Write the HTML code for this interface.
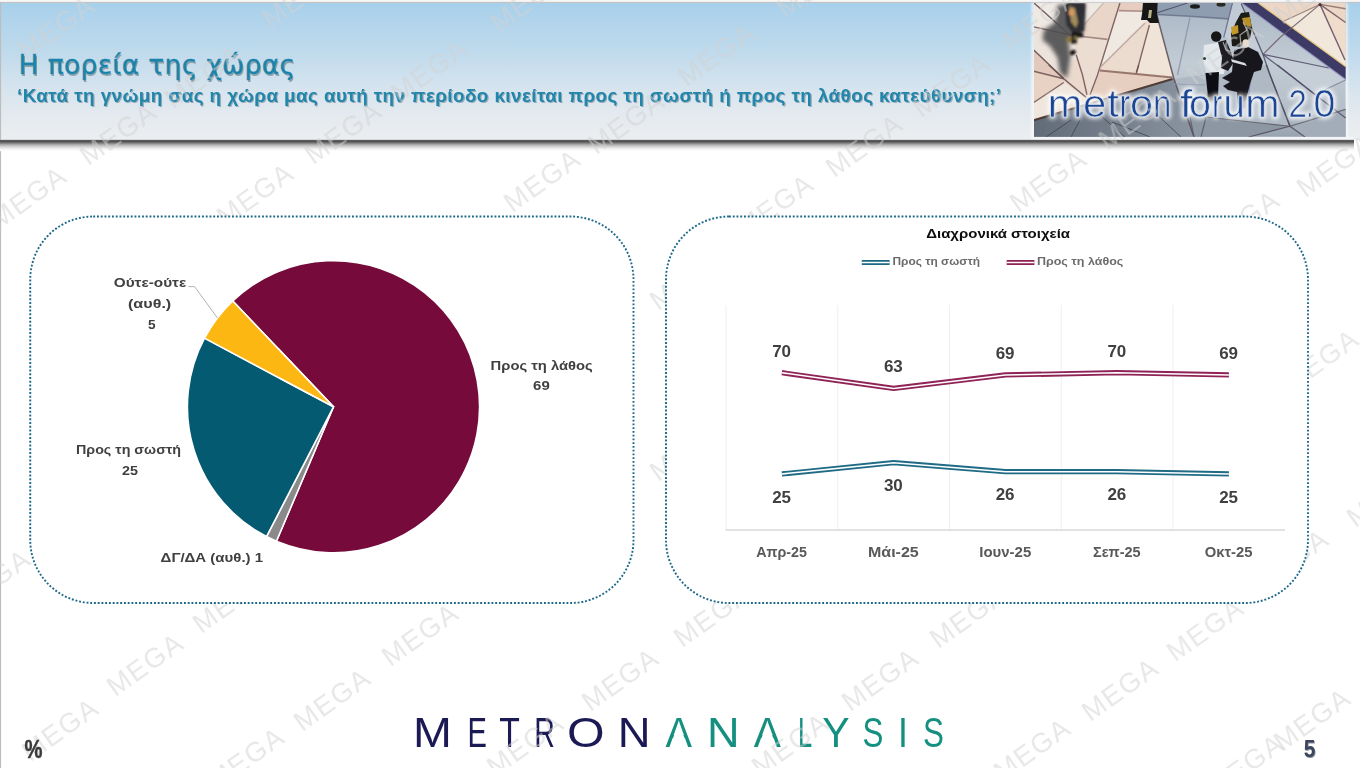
<!DOCTYPE html>
<html lang="el"><head><meta charset="utf-8"><title>Η πορεία της χώρας</title>
<style>html,body{margin:0;padding:0;background:#fff;}body{width:1360px;height:768px;overflow:hidden;}svg{display:block;}text{white-space:pre;}</style>
</head><body>
<svg width="1360" height="768" viewBox="0 0 1360 768">
<defs>
<linearGradient id="hdr" x1="0" y1="0" x2="0" y2="1">
<stop offset="0" stop-color="#a8d0eb"/><stop offset="0.35" stop-color="#bfdaec"/><stop offset="0.6" stop-color="#d4e3ee"/><stop offset="0.8" stop-color="#e3e9ef"/><stop offset="1" stop-color="#eceef0"/>
</linearGradient>
<linearGradient id="shd" x1="0" y1="0" x2="0" y2="1">
<stop offset="0" stop-color="#6a6a6a"/><stop offset="0.12" stop-color="#4a4a4a"/><stop offset="0.25" stop-color="#6e6e6e"/><stop offset="0.42" stop-color="#a8a8a8"/><stop offset="0.6" stop-color="#d0d0d0"/><stop offset="0.8" stop-color="#f0f0f0"/><stop offset="1" stop-color="#ffffff"/>
</linearGradient>
<filter id="b1" x="-20%" y="-20%" width="140%" height="140%"><feGaussianBlur stdDeviation="1"/></filter>
<filter id="b2" x="-20%" y="-20%" width="140%" height="140%"><feGaussianBlur stdDeviation="2.2"/></filter>
<filter id="b3" x="-30%" y="-30%" width="160%" height="160%"><feGaussianBlur stdDeviation="4"/></filter>
<filter id="b05" x="-10%" y="-10%" width="120%" height="120%"><feGaussianBlur stdDeviation="0.5"/></filter>
<clipPath id="imgclip"><rect x="1034" y="3" width="312" height="134"/></clipPath>
</defs>
<rect x="0" y="0" width="1360" height="768" fill="#ffffff"/>
<g opacity="0.999">
<rect x="0" y="0" width="1360" height="2" fill="#f6f6f6"/>
<rect x="0" y="1.9" width="1360" height="1.2" fill="#c2c2c2"/>
<rect x="0" y="3" width="1360" height="136.9" fill="url(#hdr)"/>
<rect x="0" y="2" width="1.1" height="766" fill="#bdbdbd"/>
<rect x="1031.3" y="3" width="316.6" height="137" fill="#ffffff" opacity="0.6" filter="url(#b1)"/>
<g clip-path="url(#imgclip)"><g filter="url(#b04)">
<defs>
<linearGradient id="pv" x1="0" y1="0" x2="1" y2="0"><stop offset="0" stop-color="#626b78"/><stop offset="0.6" stop-color="#78828f"/><stop offset="1" stop-color="#8b95a2"/></linearGradient>
<linearGradient id="bg2" x1="0" y1="0" x2="0" y2="1"><stop offset="0" stop-color="#a9b6c4"/><stop offset="0.45" stop-color="#c2ccd5"/><stop offset="0.8" stop-color="#b4bec8"/><stop offset="1" stop-color="#98a3b0"/></linearGradient>
<filter id="b04" x="-5%" y="-5%" width="110%" height="110%"><feGaussianBlur stdDeviation="0.45"/></filter>
<filter id="glow" x="-10%" y="-40%" width="120%" height="180%"><feGaussianBlur stdDeviation="2.2"/></filter>
</defs>
<rect x="1033.75" y="2.75" width="311.8499999999999" height="134.15" fill="url(#bg2)"/>
<polygon points="1157,2.75 1233,2.75 1228.5,18.9 1190,16.2 1157,14.5" fill="#8f9db1"/>
<polygon points="1233,2.75 1242,2.75 1262,52 1224,37" fill="#c9d2db" opacity="0.7"/>
<polygon points="1174,79 1266,65 1290,126 1249,137 1194,137" fill="#aeb9c4"/>
<polygon points="1194,137 1174,95 1206,117 1290,126 1249,137" fill="#8d97a4"/>
<polygon points="1290,126 1345.6,109.5 1345.6,137 1305,137" fill="#a3adb9"/>
<polygon points="1263,54.4 1329,68 1345.6,80 1315,94.4" fill="#c6cfd7"/>
<polygon points="1033.75,2.75 1157,2.75 1156.25,13 1173.75,78.3 1033.75,119.6" fill="#ead9cc"/>
<polygon points="1033.75,2.75 1104,2.75 1084,25 1071,35.5 1033.75,27" fill="#efe9e3"/>
<polygon points="1033.75,27 1071,35.5 1078,56 1060,75 1033.75,50" fill="#ece4dc"/>
<polygon points="1104,2.75 1120,2.75 1108.5,39.4 1080,36.2 1084,25" fill="#ead5c9"/>
<polygon points="1120,2.75 1157,2.75 1156.25,11.5 1118.5,10.6" fill="#e6cdbf"/>
<polygon points="1118.5,10.8 1151,11.5 1145,23 1100,67.5" fill="#efe9e2"/>
<polygon points="1145,23 1149.4,25 1136.25,72.5 1100,69.5 1100,67.5" fill="#ecdccf"/>
<polygon points="1149.4,25 1156.25,13 1173.5,77.5 1136.25,73" fill="#f0e4d8"/>
<polygon points="1080,36.2 1108.5,39.4 1097.5,75 1090,95 1082.5,75 1076,55" fill="#ecddd2"/>
<polygon points="1033.75,50 1060,75 1063.75,79 1033.75,71.25" fill="#e3c9bd"/>
<polygon points="1033.75,71.25 1063.75,79 1063.75,82.5 1033.75,102.5" fill="#e8d2c4"/>
<polygon points="1033.75,102.5 1063.75,82.5 1086.25,97.5 1033.75,119.6" fill="#efe6dd"/>
<polygon points="1100,70.6 1172.5,77.5 1173.75,78.3 1090,103 1090,95" fill="#e6cfc0"/>
<polygon points="1033.75,119.6 1172.5,78.3 1174,79 1194,137 1033.75,137" fill="url(#pv)"/>
<polyline points="1033.75,120.3 1172.5,79" fill="none" stroke="#4a332c" stroke-width="2.2" opacity="0.9"/>
<polyline points="1101,116 1125,137" fill="none" stroke="#3d4450" stroke-width="1" opacity="0.8"/>
<polyline points="1071,120 1046,137" fill="none" stroke="#3d4450" stroke-width="1" opacity="0.8"/>
<polyline points="1080,120 1071,137" fill="none" stroke="#3d4450" stroke-width="1" opacity="0.8"/>
<polyline points="1156,113.75 1181,137" fill="none" stroke="#3d4450" stroke-width="1" opacity="0.8"/>
<polyline points="1112,122 1150,137" fill="none" stroke="#3d4450" stroke-width="1" opacity="0.8"/>
<polygon points="1257.5,2.75 1345.6,2.75 1345.6,66.9" fill="#ecd6c5"/>
<polygon points="1283,21.5 1320,4.4 1345,60.5 1345.6,66.9" fill="#f1e8db"/>
<polygon points="1320,4.4 1345.6,22.5 1345.6,60.5" fill="#efdccb"/>
<polygon points="1241.25,2.75 1258,2.75 1345.6,66.5 1345.6,79.5" fill="#3d3b66"/>
<polyline points="1258,2.75 1345.6,66.5" fill="none" stroke="#e6c680" stroke-width="1.3"/>
<polyline points="1241.25,2.75 1345.6,79.5" fill="none" stroke="#9a9cc6" stroke-width="1.2" opacity="0.8"/>
<polyline points="1033.75,2.75 1071.25,36.25" fill="none" stroke="#5e4848" stroke-width="1.4850000000000003" opacity="0.85"/>
<polyline points="1033.75,26.9 1071,35" fill="none" stroke="#6d4f50" stroke-width="1.35" opacity="0.85"/>
<polyline points="1080,36.25 1107.5,39.4" fill="none" stroke="#9a7a76" stroke-width="1.62" opacity="0.85"/>
<polyline points="1120,2.75 1097.5,75 1090,95" fill="none" stroke="#6d4f50" stroke-width="1.35" opacity="0.85"/>
<polyline points="1118.75,10.6 1156,11.5" fill="none" stroke="#a38580" stroke-width="1.62" opacity="0.85"/>
<polyline points="1100,67.5 1145,23" fill="none" stroke="#b9a29a" stroke-width="1.62" opacity="0.85"/>
<polyline points="1149.4,25 1136.25,73.75" fill="none" stroke="#6d4f50" stroke-width="1.35" opacity="0.85"/>
<polyline points="1100,70.6 1172.5,77.5" fill="none" stroke="#8a655c" stroke-width="2.0250000000000004" opacity="0.85"/>
<polyline points="1157,2.75 1156.25,13 1173.75,78.3 1194,137" fill="none" stroke="#5a4a55" stroke-width="1.4850000000000003" opacity="0.85"/>
<polyline points="1033.75,50 1060,75 1063.75,78.75 1086.25,97.5" fill="none" stroke="#5e4848" stroke-width="1.4850000000000003" opacity="0.85"/>
<polyline points="1076.25,55 1082.5,75 1087,95" fill="none" stroke="#6d4f50" stroke-width="1.35" opacity="0.85"/>
<polyline points="1103.75,2.75 1083.75,25" fill="none" stroke="#c4b3aa" stroke-width="1.215" opacity="0.85"/>
<polyline points="1033.75,71.25 1063.75,78.75" fill="none" stroke="#6d4f50" stroke-width="1.35" opacity="0.85"/>
<polyline points="1033.75,102.5 1063.75,82.5" fill="none" stroke="#6b5050" stroke-width="1.35" opacity="0.85"/>
<polyline points="1048.75,65 1063.75,78.75" fill="none" stroke="#6d4f50" stroke-width="1.35" opacity="0.85"/>
<polyline points="1138.75,65 1136.25,72.5" fill="none" stroke="#6d4f50" stroke-width="1.35" opacity="0.85"/>
<polyline points="1156.25,13 1187.5,3" fill="none" stroke="#4d4a63" stroke-width="1.215" opacity="0.85"/>
<polyline points="1157,14.5 1190,16.2 1228.5,18.9" fill="none" stroke="#6b7389" stroke-width="1.62" opacity="0.85"/>
<polyline points="1190,17.5 1177.5,75" fill="none" stroke="#8892a6" stroke-width="1.215" opacity="0.85"/>
<polyline points="1232.5,2.75 1223.75,37.5" fill="none" stroke="#67688a" stroke-width="1.215" opacity="0.85"/>
<polyline points="1241.25,3.75 1263,54.4 1270,75 1290,126.25" fill="none" stroke="#4d4a63" stroke-width="1.35" opacity="0.85"/>
<polyline points="1263,54.4 1328.75,68" fill="none" stroke="#4d4a63" stroke-width="1.215" opacity="0.85"/>
<polyline points="1263,54.4 1290,75 1315,94.4 1345.6,118" fill="none" stroke="#4d4a63" stroke-width="1.215" opacity="0.85"/>
<polyline points="1263,54.4 1280,37.5 1320,4.4" fill="none" stroke="#6e5c68" stroke-width="1.215" opacity="0.85"/>
<polyline points="1266.25,65 1290,126.25 1305,137" fill="none" stroke="#4d4a63" stroke-width="1.215" opacity="0.85"/>
<polyline points="1277.5,65 1315,94.4" fill="none" stroke="#4d4a63" stroke-width="1.215" opacity="0.85"/>
<polyline points="1345.6,80 1315,94.4" fill="none" stroke="#7e879a" stroke-width="1.215" opacity="0.85"/>
<polyline points="1290,126.25 1345.6,109.4" fill="none" stroke="#5c5a63" stroke-width="1.215" opacity="0.85"/>
<polyline points="1290,126.25 1248.75,137" fill="none" stroke="#4b4750" stroke-width="1.215" opacity="0.85"/>
<polyline points="1206,117 1290,126.25" fill="none" stroke="#5f5c63" stroke-width="1.215" opacity="0.85"/>
<polyline points="1206,117 1201,137" fill="none" stroke="#555b66" stroke-width="1.215" opacity="0.85"/>
<polyline points="1190,117 1194,137" fill="none" stroke="#555b66" stroke-width="1.215" opacity="0.85"/>
<polyline points="1174,84 1205,85" fill="none" stroke="#8f9aaa" stroke-width="1.215" opacity="0.85"/>
<polyline points="1251,75 1248,100" fill="none" stroke="#7d7fae" stroke-width="1.215" opacity="0.85"/>
<polyline points="1320,4.4 1345,60" fill="none" stroke="#5d4560" stroke-width="1.35" opacity="0.85"/>
<polyline points="1320,4.4 1345.6,22.5" fill="none" stroke="#6a4d5c" stroke-width="1.35" opacity="0.85"/>
<polyline points="1320,4.4 1345.6,8.75" fill="none" stroke="#8a6a6a" stroke-width="1.35" opacity="0.85"/>
<polyline points="1320,4.4 1283,21.5" fill="none" stroke="#9a7f78" stroke-width="1.35" opacity="0.85"/>
<circle cx="1320" cy="4.6" r="1.6" fill="#4a3038"/>
<g filter="url(#b2)">
<polygon points="1057.5,5 1085,3.75 1083.75,30 1080,35 1068.5,40 1070.5,57.5 1067,78 1060,73 1057.5,57.5 1050,46 1042.5,40 1043.75,30 1055,22.5" fill="#4c4c50" opacity="0.9"/>
</g>
<g filter="url(#b1)">
<polygon points="1065,3 1085.5,3 1084,31 1074,34.5 1066.5,25" fill="#2e2e34"/>
<polygon points="1069,6 1075,8 1078,22 1076,28 1071,22" fill="#a08c5c"/>
<ellipse cx="1071.5" cy="12.5" rx="2.8" ry="3.2" fill="#d99a62"/>
<polygon points="1072,32 1083,33 1083.5,36.5 1077,37.5 1077,43 1071,44" fill="#121214"/>
<ellipse cx="1068.8" cy="39.5" rx="2.4" ry="3" fill="#8a7436"/>
<ellipse cx="1075.5" cy="38" rx="2" ry="2.6" fill="#7a6a3a"/>
<ellipse cx="1072.8" cy="52.5" rx="3.2" ry="2.4" fill="#16110e" transform="rotate(-30 1072.8 52.5)"/>
</g>
<g filter="url(#b05)">
<polygon points="1143,3 1157.5,3 1157,14 1159,23 1150,23 1147,20 1141,20 1142,14" fill="#151515"/>
<polygon points="1149,10 1152,10 1151,18 1148,18" fill="#b8b48a"/>
<ellipse cx="1195" cy="6.5" rx="5" ry="2.2" fill="#1a1a1e"/>
<ellipse cx="1221" cy="4.5" rx="4.5" ry="2.2" fill="#2a2a22"/>
</g>
<g filter="url(#b05)">
<polygon points="1204,45 1222,42 1226,55 1224,74 1207,75 1203,60" fill="#e3e8ec"/>
<circle cx="1216.2" cy="36.5" r="5.2" fill="#121214"/>
<polygon points="1205.5,73 1219,72 1218,96 1208,97" fill="#0f0f12"/>
<circle cx="1204.5" cy="58.5" r="1.6" fill="#2d4a33"/>
<polygon points="1234,50 1248,47 1258,52 1263,62 1261,70 1254,72 1250,84 1246,100 1238,104 1237,92 1228,90 1223,86 1230,82 1222,78 1232,72" fill="#17171a"/>
<polygon points="1218,42 1226,40 1231,52 1234,62 1228,71 1221,68 1222,58" fill="#1b1b20"/>
<polygon points="1241,13 1249,12 1252,28 1250,38 1240,47 1232,46 1231,34 1236,22" fill="#1d1a16"/>
<polygon points="1231,27 1238,25 1238.5,33 1232,35" fill="#c39a2c"/>
<polygon points="1242,18 1250,17 1251.5,27 1244,25" fill="#b8902a"/>
<ellipse cx="1245.8" cy="43.5" rx="3.4" ry="4.2" fill="#e8dccf"/>
<polygon points="1231,59 1245,63 1247,66 1232,62" fill="#d9dde0"/>
<polyline points="1243,22 1247,30 1240,35 1241,46 1233,52 1226,50 1223,42" fill="none" stroke="#b9bcc2" stroke-width="1.2" opacity="0.8"/>
</g>
<polygon points="1207,94 1219,94 1218,101 1208,101" fill="#444" filter="url(#b1)" opacity="0.7"/>
<polygon points="1238,100 1246,98 1245,108 1239,108" fill="#444" filter="url(#b1)" opacity="0.7"/>
<g font-family='"Liberation Sans", sans-serif' font-size="38">
<text y="116.9" fill="#ffffff" stroke="#ffffff" stroke-width="3.5" stroke-linejoin="round" filter="url(#glow)" opacity="0.95"><tspan x="1047.8" textLength="34.5" lengthAdjust="spacingAndGlyphs">m</tspan><tspan x="1083.1" textLength="23.4" lengthAdjust="spacingAndGlyphs">e</tspan><tspan x="1107.2" textLength="11.6" lengthAdjust="spacingAndGlyphs">t</tspan><tspan x="1119.6" textLength="10.6" lengthAdjust="spacingAndGlyphs">r</tspan><tspan x="1130.0" textLength="23.0" lengthAdjust="spacingAndGlyphs">o</tspan><tspan x="1153.1" textLength="18.3" lengthAdjust="spacingAndGlyphs">n</tspan><tspan x="1171.0" textLength="6.0" lengthAdjust="spacingAndGlyphs"> </tspan><tspan x="1179.7" textLength="12.7" lengthAdjust="spacingAndGlyphs">f</tspan><tspan x="1189.1" textLength="21.9" lengthAdjust="spacingAndGlyphs">o</tspan><tspan x="1211.9" textLength="10.3" lengthAdjust="spacingAndGlyphs">r</tspan><tspan x="1223.4" textLength="21.3" lengthAdjust="spacingAndGlyphs">u</tspan><tspan x="1245.3" textLength="34.3" lengthAdjust="spacingAndGlyphs">m</tspan><tspan x="1279.0" textLength="7.0" lengthAdjust="spacingAndGlyphs"> </tspan><tspan x="1288.4" textLength="18.4" lengthAdjust="spacingAndGlyphs">2</tspan><tspan x="1306.9" textLength="5.7" lengthAdjust="spacingAndGlyphs">.</tspan><tspan x="1313.5" textLength="21.8" lengthAdjust="spacingAndGlyphs">0</tspan></text>
<text y="116.9" fill="#1c4594" stroke="#dfe6ee" stroke-width="0.7"><tspan x="1047.8" textLength="34.5" lengthAdjust="spacingAndGlyphs">m</tspan><tspan x="1083.1" textLength="23.4" lengthAdjust="spacingAndGlyphs">e</tspan><tspan x="1107.2" textLength="11.6" lengthAdjust="spacingAndGlyphs">t</tspan><tspan x="1119.6" textLength="10.6" lengthAdjust="spacingAndGlyphs">r</tspan><tspan x="1130.0" textLength="23.0" lengthAdjust="spacingAndGlyphs">o</tspan><tspan x="1153.1" textLength="18.3" lengthAdjust="spacingAndGlyphs">n</tspan><tspan x="1171.0" textLength="6.0" lengthAdjust="spacingAndGlyphs"> </tspan><tspan x="1179.7" textLength="12.7" lengthAdjust="spacingAndGlyphs">f</tspan><tspan x="1189.1" textLength="21.9" lengthAdjust="spacingAndGlyphs">o</tspan><tspan x="1211.9" textLength="10.3" lengthAdjust="spacingAndGlyphs">r</tspan><tspan x="1223.4" textLength="21.3" lengthAdjust="spacingAndGlyphs">u</tspan><tspan x="1245.3" textLength="34.3" lengthAdjust="spacingAndGlyphs">m</tspan><tspan x="1279.0" textLength="7.0" lengthAdjust="spacingAndGlyphs"> </tspan><tspan x="1288.4" textLength="18.4" lengthAdjust="spacingAndGlyphs">2</tspan><tspan x="1306.9" textLength="5.7" lengthAdjust="spacingAndGlyphs">.</tspan><tspan x="1313.5" textLength="21.8" lengthAdjust="spacingAndGlyphs">0</tspan></text>
</g>
</g></g>
<rect x="1033.25" y="136.9" width="319.8499999999999" height="3.4" fill="#f4f5f7"/>
<rect x="0" y="139.8" width="1360" height="11.4" fill="#ffffff"/>
<rect x="0" y="139.8" width="1354" height="11.2" fill="url(#shd)"/>
<g font-family='"DejaVu Sans", "Liberation Sans", sans-serif' font-size="26.4">
<text x="19.7" y="75.5" fill="#8fa1ac" textLength="276.5" lengthAdjust="spacing" filter="url(#b05)">Η πορεία της χώρας</text>
<text x="18.6" y="74.3" fill="#1a83aa" stroke="#1a83aa" stroke-width="0.3" textLength="276.5" lengthAdjust="spacing">Η πορεία της χώρας</text>
</g>
<g font-family='"Liberation Sans", sans-serif' font-size="18.8" font-weight="bold">
<text x="18.1" y="103.2" fill="#9aabb5" textLength="984" lengthAdjust="spacing" filter="url(#b05)">‘Κατά τη γνώμη σας η χώρα μας αυτή την περίοδο κινείται προς τη σωστή ή προς τη λάθος κατεύθυνση;’</text>
<text x="17" y="102" fill="#2086ac" textLength="984" lengthAdjust="spacing">‘Κατά τη γνώμη σας η χώρα μας αυτή την περίοδο κινείται προς τη σωστή ή προς τη λάθος κατεύθυνση;’</text>
</g>
<g font-family='"Liberation Sans", sans-serif' font-size="41.6">
<text y="747.4" fill="#1c1a55"><tspan x="413.0" textLength="38.9" lengthAdjust="spacingAndGlyphs">M</tspan><tspan x="467.5" textLength="19.4" lengthAdjust="spacingAndGlyphs">E</tspan><tspan x="499.3" textLength="20.6" lengthAdjust="spacingAndGlyphs">T</tspan><tspan x="534.3" textLength="20.6" lengthAdjust="spacingAndGlyphs">R</tspan><tspan x="567.0" textLength="37.6" lengthAdjust="spacingAndGlyphs">O</tspan><tspan x="617.8" textLength="32.8" lengthAdjust="spacingAndGlyphs">N</tspan></text>
<text y="747.4" fill="#159080"><tspan x="665.5" textLength="26.5" lengthAdjust="spacingAndGlyphs">A</tspan><tspan x="707.1" textLength="32.6" lengthAdjust="spacingAndGlyphs">N</tspan><tspan x="753.8" textLength="27.1" lengthAdjust="spacingAndGlyphs">A</tspan><tspan x="797.9" textLength="14.2" lengthAdjust="spacingAndGlyphs">L</tspan><tspan x="822.2" textLength="27.4" lengthAdjust="spacingAndGlyphs">Y</tspan><tspan x="862.4" textLength="20.9" lengthAdjust="spacingAndGlyphs">S</tspan><tspan x="898.0" textLength="9.9" lengthAdjust="spacingAndGlyphs">I</tspan><tspan x="923.1" textLength="20.9" lengthAdjust="spacingAndGlyphs">S</tspan></text>
<polygon points="672.36,739.88 685.22,739.88 683.40,735.01 674.19,735.01" fill="#ffffff"/><polygon points="760.81,739.88 773.96,739.88 772.10,735.01 762.68,735.01" fill="#ffffff"/>
</g>
<g font-family='"Liberation Sans", sans-serif' font-size="27.5" fill="#d2d2d2" fill-opacity="0.5" text-anchor="middle" letter-spacing="1.6">
<text transform="translate(56,27) rotate(-35.5)" x="0" y="9.8">MEGA</text>
<text transform="translate(118,133) rotate(-35.5)" x="0" y="9.8">MEGA</text>
<text transform="translate(28,197) rotate(-35.5)" x="0" y="9.8">MEGA</text>
<text transform="translate(255,194) rotate(-35.5)" x="0" y="9.8">MEGA</text>
<text transform="translate(343,132) rotate(-35.5)" x="0" y="9.8">MEGA</text>
<text transform="translate(429,70) rotate(-35.5)" x="0" y="9.8">MEGA</text>
<text transform="translate(528,0) rotate(-35.5)" x="0" y="9.8">MEGA</text>
<text transform="translate(203,76) rotate(-35.5)" x="0" y="9.8">MEGA</text>
<text transform="translate(300,-4) rotate(-35.5)" x="0" y="9.8">MEGA</text>
<text transform="translate(542,180) rotate(-35.5)" x="0" y="9.8">MEGA</text>
<text transform="translate(626,122) rotate(-35.5)" x="0" y="9.8">MEGA</text>
<text transform="translate(716,54) rotate(-35.5)" x="0" y="9.8">MEGA</text>
<text transform="translate(815,-14) rotate(-35.5)" x="0" y="9.8">MEGA</text>
<text transform="translate(775,205) rotate(-35.5)" x="0" y="9.8">MEGA</text>
<text transform="translate(864,145) rotate(-35.5)" x="0" y="9.8">MEGA</text>
<text transform="translate(951,85) rotate(-35.5)" x="0" y="9.8">MEGA</text>
<text transform="translate(1040,18) rotate(-35.5)" x="0" y="9.8">MEGA</text>
<text transform="translate(1048,180) rotate(-35.5)" x="0" y="9.8">MEGA</text>
<text transform="translate(1137,117) rotate(-35.5)" x="0" y="9.8">MEGA</text>
<text transform="translate(1225,53) rotate(-35.5)" x="0" y="9.8">MEGA</text>
<text transform="translate(1312,-8) rotate(-35.5)" x="0" y="9.8">MEGA</text>
<text transform="translate(1241,221) rotate(-35.5)" x="0" y="9.8">MEGA</text>
<text transform="translate(1335,165) rotate(-35.5)" x="0" y="9.8">MEGA</text>
<text transform="translate(688,278) rotate(-35.5)" x="0" y="9.8">MEGA</text>
<text transform="translate(688,449) rotate(-35.5)" x="0" y="9.8">MEGA</text>
<text transform="translate(1320,360) rotate(-35.5)" x="0" y="9.8">MEGA</text>
<text transform="translate(1290,560) rotate(-35.5)" x="0" y="9.8">MEGA</text>
<text transform="translate(1385,495) rotate(-35.5)" x="0" y="9.8">MEGA</text>
<text transform="translate(-8,580) rotate(-35.5)" x="0" y="9.8">MEGA</text>
<text transform="translate(60,729) rotate(-35.5)" x="0" y="9.8">MEGA</text>
<text transform="translate(145,664) rotate(-35.5)" x="0" y="9.8">MEGA</text>
<text transform="translate(231,601) rotate(-35.5)" x="0" y="9.8">MEGA</text>
<text transform="translate(246,758) rotate(-35.5)" x="0" y="9.8">MEGA</text>
<text transform="translate(332,699) rotate(-35.5)" x="0" y="9.8">MEGA</text>
<text transform="translate(420,634) rotate(-35.5)" x="0" y="9.8">MEGA</text>
<text transform="translate(525,744) rotate(-35.5)" x="0" y="9.8">MEGA</text>
<text transform="translate(620,679) rotate(-35.5)" x="0" y="9.8">MEGA</text>
<text transform="translate(712,615) rotate(-35.5)" x="0" y="9.8">MEGA</text>
<text transform="translate(790,744) rotate(-35.5)" x="0" y="9.8">MEGA</text>
<text transform="translate(880,679) rotate(-35.5)" x="0" y="9.8">MEGA</text>
<text transform="translate(968,616) rotate(-35.5)" x="0" y="9.8">MEGA</text>
<text transform="translate(1032,749) rotate(-35.5)" x="0" y="9.8">MEGA</text>
<text transform="translate(1120,689) rotate(-35.5)" x="0" y="9.8">MEGA</text>
<text transform="translate(1205,629) rotate(-35.5)" x="0" y="9.8">MEGA</text>
<text transform="translate(1312,719) rotate(-35.5)" x="0" y="9.8">MEGA</text>
<text transform="translate(1245,765) rotate(-35.5)" x="0" y="9.8">MEGA</text>
</g>
<rect x="30.25" y="216.5" width="603.25" height="386.5" rx="63" ry="63" fill="#ffffff" stroke="#1b6888" stroke-width="1.9" stroke-dasharray="1.9 1.85" />
<rect x="666" y="216.5" width="642" height="386.5" rx="63" ry="63" fill="#ffffff" stroke="#1b6888" stroke-width="1.9" stroke-dasharray="1.9 1.85" />
<path d="M333.50,406.75 L232.75,300.95 A146.1,146.1 0 1 1 276.41,541.24 Z" fill="#750a3b" stroke="#ffffff" stroke-width="1.6" stroke-linejoin="round"/>
<path d="M333.50,406.75 L276.41,541.24 A146.1,146.1 0 0 1 266.49,536.58 Z" fill="#8a8a8a" stroke="#ffffff" stroke-width="1.6" stroke-linejoin="round"/>
<path d="M333.50,406.75 L266.49,536.58 A146.1,146.1 0 0 1 204.50,338.16 Z" fill="#035a71" stroke="#ffffff" stroke-width="1.6" stroke-linejoin="round"/>
<path d="M333.50,406.75 L204.50,338.16 A146.1,146.1 0 0 1 232.75,300.95 Z" fill="#fdb713" stroke="#ffffff" stroke-width="1.6" stroke-linejoin="round"/>
<polyline points="188.5,286.6 194.6,286.6 217.5,318" fill="none" stroke="#b2b2b2" stroke-width="1"/>
<text x="113.75" y="287.25" font-family='"Liberation Sans", sans-serif' font-size="13.0" font-weight="bold" fill="#404040" textLength="72.50" lengthAdjust="spacingAndGlyphs">Ούτε-ούτε</text>
<text x="128" y="308" font-family='"Liberation Sans", sans-serif' font-size="13.0" font-weight="bold" fill="#404040" textLength="43.25" lengthAdjust="spacingAndGlyphs">(αυθ.)</text>
<text x="148" y="328.5" font-family='"Liberation Sans", sans-serif' font-size="13.0" font-weight="bold" fill="#404040" textLength="7.60" lengthAdjust="spacingAndGlyphs">5</text>
<text x="76" y="454.4" font-family='"Liberation Sans", sans-serif' font-size="13.0" font-weight="bold" fill="#404040" textLength="105.00" lengthAdjust="spacingAndGlyphs">Προς τη σωστή</text>
<text x="122.1" y="475" font-family='"Liberation Sans", sans-serif' font-size="13.0" font-weight="bold" fill="#404040" textLength="16.00" lengthAdjust="spacingAndGlyphs">25</text>
<text x="490.6" y="369.75" font-family='"Liberation Sans", sans-serif' font-size="13.0" font-weight="bold" fill="#404040" textLength="102.15" lengthAdjust="spacingAndGlyphs">Προς τη λάθος</text>
<text x="533.1" y="390" font-family='"Liberation Sans", sans-serif' font-size="13.0" font-weight="bold" fill="#404040" textLength="16.65" lengthAdjust="spacingAndGlyphs">69</text>
<text x="160.6" y="562.25" font-family='"Liberation Sans", sans-serif' font-size="13.0" font-weight="bold" fill="#404040" textLength="102.50" lengthAdjust="spacingAndGlyphs">ΔΓ/ΔΑ (αυθ.) 1</text>
<text x="926.25" y="238.2" font-family='"Liberation Sans", sans-serif' font-size="13.4" font-weight="bold" fill="#0d0d0d" textLength="143.75" lengthAdjust="spacingAndGlyphs">Διαχρονικά στοιχεία</text>
<polyline points="861.80,262.50 889.60,262.50" fill="none" stroke="#1f6b85" stroke-width="5.05" stroke-linejoin="round" stroke-linecap="butt"/>
<polyline points="861.80,262.50 889.60,262.50" fill="none" stroke="#ffffff" stroke-width="1.45" stroke-linejoin="round" stroke-linecap="butt"/>
<text x="892.5" y="265.4" font-family='"Liberation Sans", sans-serif' font-size="10.9" font-weight="bold" fill="#6b6b6b" textLength="87.50" lengthAdjust="spacingAndGlyphs">Προς τη σωστή</text>
<polyline points="1006.70,262.50 1034.40,262.50" fill="none" stroke="#8f2358" stroke-width="5.05" stroke-linejoin="round" stroke-linecap="butt"/>
<polyline points="1006.70,262.50 1034.40,262.50" fill="none" stroke="#ffffff" stroke-width="1.45" stroke-linejoin="round" stroke-linecap="butt"/>
<text x="1037" y="265.4" font-family='"Liberation Sans", sans-serif' font-size="10.9" font-weight="bold" fill="#6b6b6b" textLength="86.25" lengthAdjust="spacingAndGlyphs">Προς τη λάθος</text>
<line x1="726.00" y1="305" x2="726.00" y2="530" stroke="#efefef" stroke-width="1"/>
<line x1="837.75" y1="305" x2="837.75" y2="530" stroke="#efefef" stroke-width="1"/>
<line x1="949.50" y1="305" x2="949.50" y2="530" stroke="#efefef" stroke-width="1"/>
<line x1="1061.25" y1="305" x2="1061.25" y2="530" stroke="#efefef" stroke-width="1"/>
<line x1="1173.00" y1="305" x2="1173.00" y2="530" stroke="#efefef" stroke-width="1"/>
<line x1="725.5" y1="530" x2="1285" y2="530" stroke="#d9d9d9" stroke-width="1.3"/>
<polyline points="781.90,372.70 893.65,388.45 1005.40,374.95 1117.15,372.70 1228.90,374.95" fill="none" stroke="#8f2358" stroke-width="5.25" stroke-linejoin="round" stroke-linecap="butt"/>
<polyline points="781.90,372.70 893.65,388.45 1005.40,374.95 1117.15,372.70 1228.90,374.95" fill="none" stroke="#ffffff" stroke-width="1.65" stroke-linejoin="round" stroke-linecap="butt"/>
<polyline points="781.90,473.95 893.65,462.70 1005.40,471.70 1117.15,471.70 1228.90,473.95" fill="none" stroke="#1f6b85" stroke-width="5.25" stroke-linejoin="round" stroke-linecap="butt"/>
<polyline points="781.90,473.95 893.65,462.70 1005.40,471.70 1117.15,471.70 1228.90,473.95" fill="none" stroke="#ffffff" stroke-width="1.65" stroke-linejoin="round" stroke-linecap="butt"/>
<text x="772.15" y="357.25" font-family='"Liberation Sans", sans-serif' font-size="16.8" font-weight="bold" fill="#404040" textLength="18.9" lengthAdjust="spacingAndGlyphs">70</text>
<text x="883.90" y="372.25" font-family='"Liberation Sans", sans-serif' font-size="16.8" font-weight="bold" fill="#404040" textLength="18.9" lengthAdjust="spacingAndGlyphs">63</text>
<text x="995.65" y="358.5" font-family='"Liberation Sans", sans-serif' font-size="16.8" font-weight="bold" fill="#404040" textLength="18.9" lengthAdjust="spacingAndGlyphs">69</text>
<text x="1107.40" y="357.25" font-family='"Liberation Sans", sans-serif' font-size="16.8" font-weight="bold" fill="#404040" textLength="18.9" lengthAdjust="spacingAndGlyphs">70</text>
<text x="1219.15" y="359" font-family='"Liberation Sans", sans-serif' font-size="16.8" font-weight="bold" fill="#404040" textLength="18.9" lengthAdjust="spacingAndGlyphs">69</text>
<text x="772.15" y="502.5" font-family='"Liberation Sans", sans-serif' font-size="16.8" font-weight="bold" fill="#404040" textLength="18.9" lengthAdjust="spacingAndGlyphs">25</text>
<text x="883.90" y="491.25" font-family='"Liberation Sans", sans-serif' font-size="16.8" font-weight="bold" fill="#404040" textLength="18.9" lengthAdjust="spacingAndGlyphs">30</text>
<text x="995.65" y="500" font-family='"Liberation Sans", sans-serif' font-size="16.8" font-weight="bold" fill="#404040" textLength="18.9" lengthAdjust="spacingAndGlyphs">26</text>
<text x="1107.40" y="500" font-family='"Liberation Sans", sans-serif' font-size="16.8" font-weight="bold" fill="#404040" textLength="18.9" lengthAdjust="spacingAndGlyphs">26</text>
<text x="1219.15" y="503" font-family='"Liberation Sans", sans-serif' font-size="16.8" font-weight="bold" fill="#404040" textLength="18.9" lengthAdjust="spacingAndGlyphs">25</text>
<text x="756.25" y="557" font-family='"Liberation Sans", sans-serif' font-size="13.9" font-weight="bold" fill="#595959" textLength="50.75" lengthAdjust="spacingAndGlyphs">Απρ-25</text>
<text x="868" y="557" font-family='"Liberation Sans", sans-serif' font-size="13.9" font-weight="bold" fill="#595959" textLength="50.75" lengthAdjust="spacingAndGlyphs">Μάι-25</text>
<text x="979.25" y="557" font-family='"Liberation Sans", sans-serif' font-size="13.9" font-weight="bold" fill="#595959" textLength="52.00" lengthAdjust="spacingAndGlyphs">Ιουν-25</text>
<text x="1093" y="557" font-family='"Liberation Sans", sans-serif' font-size="13.9" font-weight="bold" fill="#595959" textLength="47.60" lengthAdjust="spacingAndGlyphs">Σεπ-25</text>
<text x="1204.7" y="557" font-family='"Liberation Sans", sans-serif' font-size="13.9" font-weight="bold" fill="#595959" textLength="47.80" lengthAdjust="spacingAndGlyphs">Οκτ-25</text>
<text x="24.6" y="758.3" font-family='"Liberation Sans", sans-serif' font-size="26.5" font-weight="bold" fill="#3a3a3a" stroke="#3a3a3a" stroke-width="0.5" textLength="18" lengthAdjust="spacingAndGlyphs">%</text>
<text x="1304.6" y="758.3" font-family='"Liberation Sans", sans-serif' font-size="24.2" font-weight="bold" fill="#8a8d99" filter="url(#b05)" textLength="11.6" lengthAdjust="spacingAndGlyphs">5</text>
<text x="1303.8" y="757.4" font-family='"Liberation Sans", sans-serif' font-size="24.2" font-weight="bold" fill="#3b4560" textLength="11.6" lengthAdjust="spacingAndGlyphs">5</text>
</g>
</svg></body></html>
